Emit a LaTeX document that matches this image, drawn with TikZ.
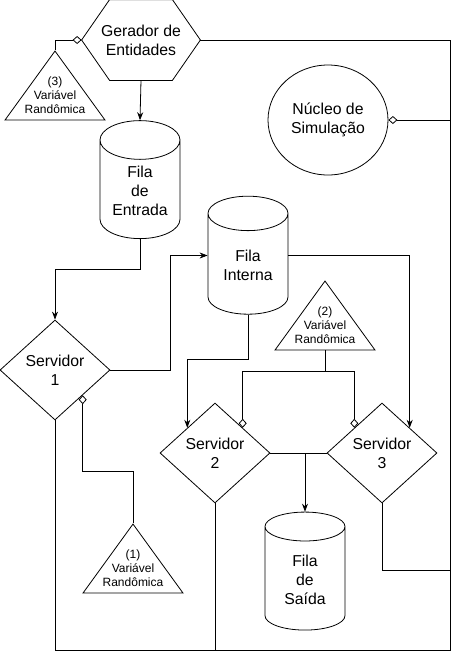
\documentclass[tikz,border=0pt]{standalone}
\usepackage{fontspec}
\setmainfont{Liberation Sans}
\usetikzlibrary{shapes.geometric,arrows.meta}
\newcommand{\filatxt}[1]{\raisebox{-3.5pt}[\height][\depth]{\begin{tabular}{@{}c@{}}#1\end{tabular}}}
\tikzset{
  txt/.style={font=\fontsize{15.8}{18.8}\selectfont, align=center},
  txtp/.style={font=\fontsize{12}{14}\selectfont, align=center},
  fila/.style={cylinder, draw, shape border rotate=90, aspect=0.7, minimum width=80pt, minimum height=118pt, inner sep=0pt, txt},
  servidor/.style={diamond, draw, minimum width=110pt, minimum height=100pt, inner sep=0pt, txt},
  varrand/.style={isosceles triangle, draw, shape border rotate=90, isosceles triangle stretches, minimum width=100pt, minimum height=69pt, inner sep=0pt},
  seta/.style={-{Stealth[length=8pt,width=6pt]}},
  liga/.style={-{Diamond[open,length=9pt,width=8pt]}},
}
\begin{document}
\begin{tikzpicture}[x=1pt, y=-1pt, line width=0.8pt]
    \useasboundingbox (0,0) rectangle (462,662);
    \node[minimum width=118pt, minimum height=80pt, inner sep=0pt, txt] (ger) at (141,40) {Gerador de\\Entidades};
    \draw (ger.west) -- ([xshift=28pt]ger.north west) -- ([xshift=-28pt]ger.north east)
        -- (ger.east) -- ([xshift=-28pt]ger.south east) -- ([xshift=28pt]ger.south west) -- cycle;
    \node[ellipse, draw, minimum width=120pt, minimum height=110pt, inner sep=0pt, txt] (nuc) at (328,120) {Núcleo de\\Simulação};

    \node[fila] (fe) at (140,189.5) {\filatxt{Fila\\de\\Entrada}};
    \node[fila] (fi) at (248,264) {\filatxt{Fila\\Interna}};
    \node[fila] (fs) at (305,578.5) {\filatxt{Fila\\de\\Saída}};

    \node[servidor] (s1) at (55,370) {Servidor\\1};
    \node[servidor] (s2) at (215,453) {Servidor\\2};
    \node[servidor] (s3) at (382,453) {Servidor\\3};

    \node[varrand, anchor=north] (v3) at (55,50) {};
    \node[txtp] (v3-t) at ([yshift=25pt]v3.south) {(3)\\Variável\\Randômica};
    \node[varrand, anchor=north] (v2) at (325,280) {};
    \node[txtp] (v2-t) at ([yshift=25pt]v2.south) {(2)\\Variável\\Randômica};
    \node[varrand, anchor=north] (v1) at (133,523) {};
    \node[txtp] (v1-t) at ([yshift=25pt]v1.south) {(1)\\Variável\\Randômica};

    \coordinate (c1) at (450,650);
    \coordinate (c2) at (450,570);

    \draw[liga] (v3.north) |- (ger.west);
    \draw (ger.east) -| (c1) -| (s1.south);
    \draw[liga] (nuc.east -| c1) -- (nuc.east);
    \draw[seta] (ger.south) -- (fe.north);
    \draw[seta] (fe.south) -- ++(0,30) -| (s1.north);
    \draw[seta] (s1.east) -- ++(60,0) |- ([yshift=8.5pt]fi.west);
    \draw[seta] ([yshift=8.5pt]fi.east) -| (s3.north east);
    \draw[seta] (fi.south) -- ++(0,45) -| (s2.north west);
    \draw[liga] (v2.south) -- ++(0,21) -| (s2.north east);
    \draw[liga] (v2.south) -- ++(0,21) -| (s3.north west);
    \draw (s2.east) -- (s3.west);
    \draw[seta] (s2.east -| fs.north) -- (fs.north);
    \draw (s2.south) -- (s2.south |- c1);
    \draw (s3.south) |- (c2);
    \draw[liga] (v1.north) -- ++(0,-52) -| (s1.south east);
\end{tikzpicture}
\end{document}
